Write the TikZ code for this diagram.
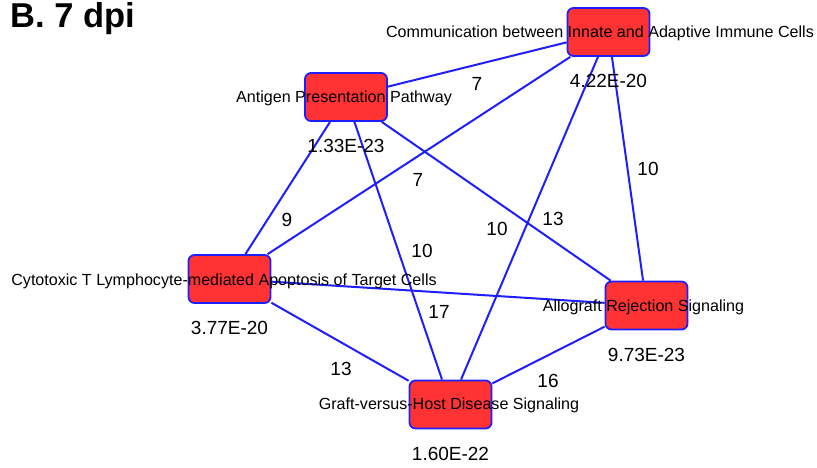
\documentclass[tikz,border=0pt]{standalone}
\usepackage{fontspec}
\setmainfont{Liberation Sans}
\usetikzlibrary{calc}

\definecolor{nodered}{RGB}{255,51,51}
\definecolor{edgeblue}{RGB}{30,30,255}

\tikzset{
    pbox/.style={draw=edgeblue, fill=nodered, line width=1.8pt, rounded corners=6pt,
        minimum width=82pt, minimum height=48pt, inner sep=0pt},
    pname/.style={font=\fontsize{16.1}{18}\selectfont, inner sep=0pt},
    pval/.style={font=\fontsize{19}{21}\selectfont, inner sep=0pt},
    elabel/.style={font=\fontsize{19}{21}\selectfont, inner sep=0pt},
    edge/.style={draw=edgeblue, line width=2pt},
    title/.style={font=\fontsize{34.5}{36}\selectfont\bfseries, inner sep=0pt}
}

\begin{document}
\begin{tikzpicture}[x=1pt, y=-1pt]
    \useasboundingbox (0,0) rectangle (817,467);

    \node[title, anchor=base west] (ttl) at (10,27) {B. 7 dpi};

    % pathway boxes
    \node[pbox] (antigen) at (346,97) {};
    \node[pbox] (comm) at (608.5,32) {};
    \node[pbox] (cyto) at (229.5,279) {};
    \node[pbox] (allo) at (646.5,305.5) {};
    \node[pbox] (graft) at (450.5,404.5) {};

    % connections
    \draw[edge] (antigen) -- (comm);
    \draw[edge] (antigen) -- (cyto);
    \draw[edge] (antigen) -- (graft);
    \draw[edge] (antigen) -- (allo);
    \draw[edge] (comm) -- (cyto);
    \draw[edge] (comm) -- (graft);
    \draw[edge] (comm) -- (allo);
    \draw[edge] (cyto) -- (allo);
    \draw[edge] (cyto) -- (graft);
    \draw[edge] (allo) -- (graft);

    \node[elabel] (e1) at (477,84) {7};
    \node[elabel] (e2) at (287,220) {9};
    \node[elabel] (e3) at (422,251) {10};
    \node[elabel] (e4) at (497,229) {10};
    \node[elabel] (e5) at (418,180) {7};
    \node[elabel] (e6) at (553,219) {13};
    \node[elabel] (e7) at (648,169) {10};
    \node[elabel] (e8) at (439,312) {17};
    \node[elabel] (e9) at (341,369) {13};
    \node[elabel] (e10) at (548,381) {16};

    % names and p-values
    \node[pname] (nantigen) at (344,98) {Antigen Presentation Pathway};
    \node[pname] (ncomm) at (600,33) {Communication between Innate and Adaptive Immune Cells};
    \node[pname] (ncyto) at (224,281) {Cytotoxic T Lymphocyte-mediated Apoptosis of Target Cells};
    \node[pname] (nallo) at (643.5,307) {Allograft Rejection Signaling};
    \node[pname] (ngraft) at (449,405) {Graft-versus-Host Disease Signaling};

    \node[pval] (pantigen) at ($(antigen)+(0,49)$) {1.33E-23};
    \node[pval] (pcomm) at ($(comm)+(0,49)$) {4.22E-20};
    \node[pval] (pcyto) at ($(cyto)+(0,49)$) {3.77E-20};
    \node[pval] (pallo) at ($(allo)+(0,49)$) {9.73E-23};
    \node[pval] (pgraft) at ($(graft)+(0,49)$) {1.60E-22};
\end{tikzpicture}
\end{document}
